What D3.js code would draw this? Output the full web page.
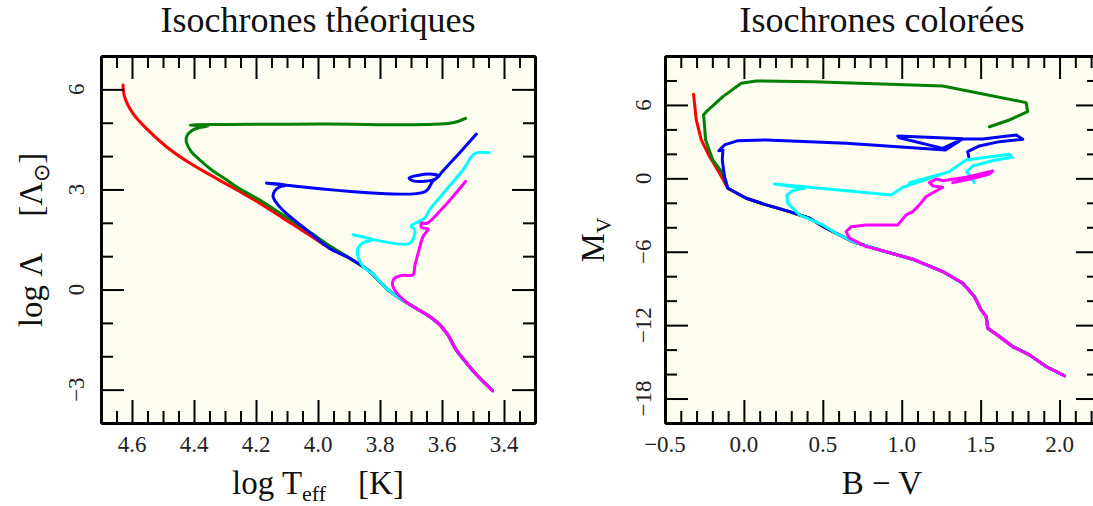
<!DOCTYPE html>
<html><head><meta charset="utf-8">
<script src="https://cdn.jsdelivr.net/npm/d3@7"></script>
<style>body{margin:0;background:#fff;overflow:hidden}</style>
</head><body>
<svg id="c" width="1093" height="506"></svg>
<script>
// ---------- DATA: left panel (log Teff, log L) ----------
const theoMS = [[4.263,2.99],[4.188,2.59],[4.113,2.14],[4.037,1.69],[3.963,1.24],[3.898,0.94],[3.833,0.54],[3.801,0.24],[3.774,-0.01],[3.736,-0.26],[3.693,-0.51],[3.640,-0.81],[3.607,-1.06],[3.581,-1.36],[3.554,-1.81],[3.521,-2.20],[3.484,-2.60],[3.437,-3.03]];
const theoRed = [[4.629,6.13],[4.624,5.78],[4.597,5.28],[4.554,4.83],[4.489,4.28],[4.414,3.79],[4.339,3.39]];
const theoGreen = [[3.524,5.13],[3.570,4.99],[4.000,4.96],[4.412,4.93],[4.355,4.90],[4.385,4.85],[4.408,4.76],[4.424,4.58],[4.424,4.40],[4.410,4.15],[4.382,3.89],[4.345,3.60],[4.300,3.32],[4.259,3.06],[4.184,2.66],[4.109,2.21],[4.033,1.76],[3.960,1.30]];
const theoBlue = [[3.489,4.66],[3.545,4.08],[3.600,3.52],[3.620,3.32],[3.690,3.25],[3.706,3.34],[3.640,3.46],[3.612,3.40],[3.630,3.25],[3.656,2.93],[4.166,3.19],[4.100,3.13],[4.125,3.07],[4.140,2.95],[4.145,2.79],[4.129,2.54],[4.091,2.19],[4.037,1.79]];
const theoCyan = [[3.448,4.10],[3.495,4.07],[3.532,3.59],[3.586,2.99],[3.640,2.39],[3.655,2.15],[3.672,2.05],[3.700,1.90],[3.688,1.80],[3.704,1.39],[3.887,1.64],[3.825,1.50],[3.855,1.40],[3.871,1.24],[3.871,0.99],[3.855,0.69],[3.823,0.46]];
const theoMagenta = [[3.524,3.24],[3.560,2.84],[3.600,2.42],[3.650,1.98],[3.666,2.00],[3.666,1.86],[3.645,1.82],[3.661,1.59],[3.677,1.09],[3.688,0.69],[3.693,0.45],[3.731,0.42],[3.753,0.34],[3.760,0.20],[3.755,0.02],[3.725,-0.30]];

// ---------- DATA: right panel (B-V, Mv) ----------
const colMS = [[-0.102,-0.81],[0.015,-1.63],[0.142,-2.17],[0.289,-2.72],[0.416,-3.26],[0.521,-4.08],[0.585,-4.49],[0.690,-5.17],[0.859,-5.85],[1.070,-6.61],[1.260,-7.62],[1.387,-8.57],[1.461,-9.67],[1.503,-10.75],[1.535,-11.30],[1.545,-12.25],[1.619,-12.93],[1.703,-13.75],[1.809,-14.43],[1.915,-15.38],[2.031,-16.14]];
const colRed = [[-0.319,6.87],[-0.302,4.77],[-0.270,3.14],[-0.218,1.78],[-0.154,0.41]];
const colGreen = [[1.556,4.22],[1.682,4.77],[1.798,5.45],[1.788,6.19],[1.260,7.55],[0.437,7.90],[0.078,7.96],[-0.017,7.77],[-0.133,6.68],[-0.238,5.45],[-0.256,5.18],[-0.249,4.23],[-0.243,3.14],[-0.197,1.50],[-0.133,0.41]];
const colBlue = [[1.425,1.77],[1.418,2.18],[1.492,2.65],[1.619,3.00],[1.767,3.19],[1.725,3.55],[1.513,3.22],[1.387,3.22],[1.260,2.45],[0.985,3.32],[0.975,3.46],[1.387,3.24],[1.277,2.32],[0.648,2.87],[0.142,3.14],[-0.038,3.08],[-0.123,2.73],[-0.159,2.26],[-0.133,2.32],[-0.137,1.50],[-0.123,0.14]];
const colCyan = [[1.461,-0.35],[1.412,0.55],[1.450,1.01],[1.577,1.45],[1.700,1.72],[1.682,1.97],[1.408,1.50],[1.302,0.55],[1.239,0.28],[1.049,-0.35],[1.281,0.47],[1.007,-0.73],[0.933,-1.36],[0.194,-0.46],[0.384,-0.81],[0.310,-1.00],[0.272,-1.36],[0.278,-2.04],[0.352,-2.99],[0.500,-3.81]];
const colMagenta = [[1.323,-0.35],[1.429,-0.08],[1.556,0.36],[1.577,0.60],[1.408,0.09],[1.260,-0.19],[1.218,-0.05],[1.176,-0.35],[1.197,-0.62],[1.260,-0.73],[1.155,-1.49],[1.112,-2.17],[1.070,-2.72],[1.028,-2.99],[0.975,-3.81],[0.775,-3.81],[0.680,-3.95],[0.648,-4.35],[0.669,-4.89],[0.775,-5.58]];

// ---------- ticks ----------
const theoXTicks = [4.6,4.4,4.2,4.0,3.8,3.6,3.4];
const theoXMinor = [4.65,4.55,4.5,4.45,4.35,4.3,4.25,4.15,4.1,4.05,3.95,3.9,3.85,3.75,3.7,3.65,3.55,3.5,3.45,3.35];
const theoXLabels = ["4.6","4.4","4.2","4.0","3.8","3.6","3.4"];
const theoYTicks = [-3,0,3,6];
const theoYMinor = [-2,-1,1,2,4,5];
const theoYLabels = ["\u22123","0","3","6"];
const colXTicks = [-0.5,0.0,0.5,1.0,1.5,2.0];
const colXMinor = [-0.4,-0.3,-0.2,-0.1,0.1,0.2,0.3,0.4,0.6,0.7,0.8,0.9,1.1,1.2,1.3,1.4,1.6,1.7,1.8,1.9,2.1,2.2];
const colXLabels = ["\u22120.5","0.0","0.5","1.0","1.5","2.0"];
const colYTicks = [-18,-12,-6,0,6];
const colYMinor = [-16,-14,-10,-8,-4,-2,2,4,8];
const colYLabels = ["\u221218","\u221212","\u22126","0","6"];

const colors = ["#ff0000","#007f00","#0000ff","#00ffff","#ff00ff"];
const FONT = "'Liberation Serif','Times New Roman',serif";
const svg = d3.select("#c");

const panels = [
  {id:"p1",left:101,right:535,top:56,bottom:423,xDomain:[4.7,3.3],yDomain:[-4,7],
   curve:d3.curveCatmullRom.alpha(0.5),xTicks:theoXTicks,xMinor:theoXMinor,xLabels:theoXLabels,
   yTicks:theoYTicks,yMinor:theoYMinor,yLabels:theoYLabels,yLabelX:84,title:"Isochrones théoriques",
   series:[theoRed.concat(theoMS), theoGreen.concat(theoMS.slice(5)), theoBlue.concat(theoMS.slice(4)),
           theoCyan.concat(theoMS.slice(7)), theoMagenta.concat(theoMS.slice(10))]},
  {id:"p2",left:665,right:1099,top:56,bottom:423,xDomain:[-0.5,2.25],yDomain:[-20,10],
   curve:d3.curveLinear,xTicks:colXTicks,xMinor:colXMinor,xLabels:colXLabels,
   yTicks:colYTicks,yMinor:colYMinor,yLabels:colYLabels,yLabelX:651,title:"Isochrones colorées",
   series:[colRed.concat(colMS), colGreen.concat(colMS), colBlue.concat(colMS),
           colCyan.concat(colMS.slice(6)), colMagenta.concat(colMS.slice(8))]}
];

const defs = svg.append("defs");
panels.forEach(o=>{
  o.x=d3.scaleLinear().domain(o.xDomain).range([o.left,o.right]);
  o.y=d3.scaleLinear().domain(o.yDomain).range([o.bottom,o.top]);
  o.cx=(o.left+o.right)/2;
  defs.append("clipPath").attr("id","clip-"+o.id).append("rect")
    .attr("x",o.left).attr("y",o.top).attr("width",o.right-o.left).attr("height",o.bottom-o.top);
  svg.append("rect").attr("x",o.left).attr("y",o.top).attr("width",o.right-o.left)
    .attr("height",o.bottom-o.top).attr("fill","#fdfdf0");
});

// curves, clipped to the plot area
panels.forEach(o=>{
  const line=d3.line().x(d=>o.x(d[0])).y(d=>o.y(d[1])).curve(o.curve);
  const cg=svg.append("g").attr("clip-path",`url(#clip-${o.id})`);
  o.series.forEach((s,i)=>{
    cg.append("path").attr("d",line(s)).attr("fill","none").attr("stroke",colors[i])
      .attr("stroke-width",3).attr("stroke-linejoin","round").attr("stroke-linecap","round");
  });
});

// axes: ticks inward on all four sides (each tick as a dark line from the axis)
panels.forEach(o=>{
  const specs=[
    [d3.axisBottom,o.x,o.xTicks,23,`translate(0,${o.bottom})`],
    [d3.axisBottom,o.x,o.xMinor,12,`translate(0,${o.bottom})`],
    [d3.axisTop,o.x,o.xTicks,23,`translate(0,${o.top})`],
    [d3.axisTop,o.x,o.xMinor,12,`translate(0,${o.top})`],
    [d3.axisLeft,o.y,o.yTicks,23,`translate(${o.left},0)`],
    [d3.axisLeft,o.y,o.yMinor,12,`translate(${o.left},0)`],
    [d3.axisRight,o.y,o.yTicks,23,`translate(${o.right},0)`],
    [d3.axisRight,o.y,o.yMinor,12,`translate(${o.right},0)`]
  ];
  specs.forEach(([fn,sc,vals,len,tr])=>{
    svg.append("g").attr("transform",tr)
      .call(fn(sc).tickValues(vals).tickSize(-len).tickSizeOuter(0).tickFormat(()=>""))
      .call(a=>a.select(".domain").attr("stroke","#000").attr("stroke-width",3))
      .call(a=>a.selectAll(".tick line").attr("stroke","#000").attr("stroke-width",2));
  });
});

// labels
panels.forEach(o=>{
  svg.append("g").selectAll("text").data(o.xTicks).join("text")
    .attr("x",d=>o.x(d)).attr("y",452).attr("text-anchor","middle")
    .attr("font-family",FONT).attr("font-size",23).attr("fill","#222")
    .text((d,i)=>o.xLabels[i]);
  svg.append("g").selectAll("text").data(o.yTicks).join("text")
    .attr("transform",d=>`translate(${o.yLabelX},${o.y(d)}) rotate(-90)`).attr("text-anchor","middle")
    .attr("font-family",FONT).attr("font-size",23).attr("fill","#222")
    .text((d,i)=>o.yLabels[i]);
  svg.append("text").attr("x",o.cx).attr("y",32).attr("text-anchor","middle")
    .attr("font-family",FONT).attr("font-size",36).attr("fill","#111").text(o.title);
});

// axis titles
const t1=svg.append("text").attr("x",panels[0].cx).attr("y",494).attr("text-anchor","middle")
  .attr("font-family",FONT).attr("font-size",33).attr("fill","#111");
t1.append("tspan").text("log T");
t1.append("tspan").attr("font-size",22).attr("dy",7).text("eff");
t1.append("tspan").attr("dy",-7).attr("dx",32).text("[K]");

const t2=svg.append("text").attr("transform",`translate(42,240) rotate(-90)`).attr("text-anchor","middle")
  .attr("font-family",FONT).attr("font-size",33).attr("fill","#111");
t2.append("tspan").text("log \u039B");
t2.append("tspan").attr("dx",36).text("[\u039B");
t2.append("tspan").attr("font-size",22).attr("dy",7).text("\u2299");
t2.append("tspan").attr("dy",-7).text("]");

svg.append("text").attr("x",panels[1].cx).attr("y",494).attr("text-anchor","middle")
  .attr("font-family",FONT).attr("font-size",33).attr("fill","#111").text("B \u2212 V");

const t4=svg.append("text").attr("transform",`translate(604,240) rotate(-90)`).attr("text-anchor","middle")
  .attr("font-family",FONT).attr("font-size",33).attr("fill","#111");
t4.append("tspan").text("M");
t4.append("tspan").attr("font-size",22).attr("dy",7).text("V");
</script>
</body></html>
